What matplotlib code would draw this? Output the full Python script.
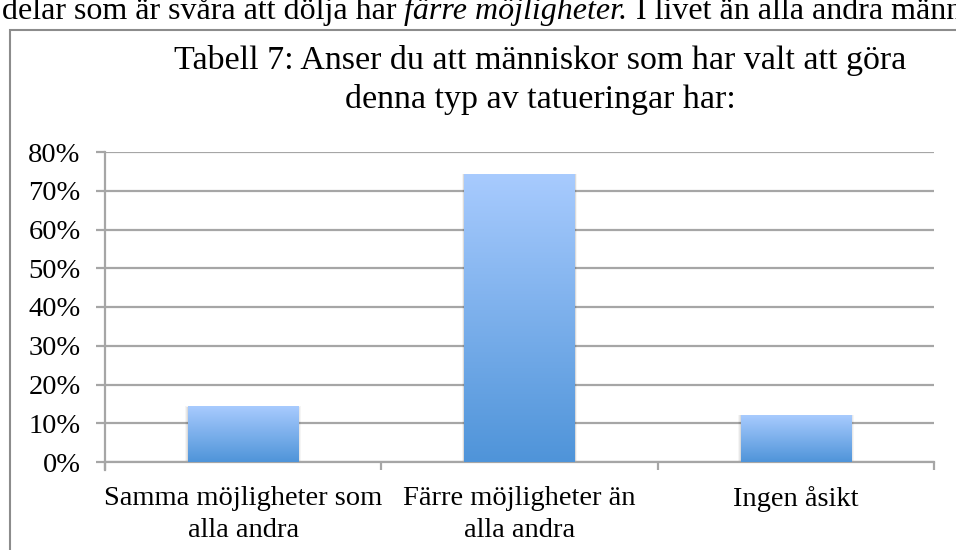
import numpy as np
import matplotlib
matplotlib.use("Agg")
import matplotlib.pyplot as plt
from matplotlib.patches import Rectangle
from matplotlib.colors import LinearSegmentedColormap

categories = ["Samma möjligheter som\nalla andra", "Färre möjligheter än\nalla andra", "Ingen åsikt"]
values = [14.2, 74.3, 12.1]
yticks = [0, 10, 20, 30, 40, 50, 60, 70, 80]
title = "Tabell 7: Anser du att människor som har valt att göra\ndenna typ av tatueringar har:"

plt.rcParams['font.family'] = ['Liberation Serif', 'DejaVu Serif']

fig = plt.figure(figsize=(9.56, 5.5), dpi=100)
W, H = 956, 550

# text from the surrounding document, cut at the top edge as in the page crop
base_y = 1 - 19 / H
r = fig.canvas.get_renderer()
t1 = fig.text(2 / W, base_y, "delar som är svåra att dölja har ", fontsize=23, va='baseline', ha='left')
bb = t1.get_window_extent(r)
t2 = fig.text(bb.x1 / W, base_y, "färre möjligheter.", fontsize=23, va='baseline', ha='left', style='italic')
bb2 = t2.get_window_extent(r)
fig.text(bb2.x1 / W, base_y, " I livet än alla andra männ", fontsize=23, va='baseline', ha='left')

# chart frame
fig.patches.append(Rectangle((10 / W, -0.1), 1.2, 1 - 30 / H + 0.1, transform=fig.transFigure,
                             fill=False, edgecolor='#8c8c8c', linewidth=1.5))

fig.text(540 / W, 1 - 80 / H, title, ha='center', va='center', fontsize=24.5, linespacing=1.32)

ax = fig.add_axes([105 / W, 1 - 462 / H, (934 - 105) / W, (462 - 152) / H])
ax.set_xlim(-0.5, 2.5)
ax.set_ylim(0, 80)

cmap = LinearSegmentedColormap.from_list('bar', ['#4f94d9', '#a8cbfe'])
grad = np.linspace(0, 1, 256).reshape(-1, 1)
bw = 0.40
for i, v in enumerate(values):
    # soft shadow
    for k, a in enumerate([0.06, 0.05, 0.04]):
        d = 0.003 * (k + 1)
        ax.add_patch(Rectangle((i - bw / 2 - d, -0.3), bw + 2 * d, v + 0.3 + d * 15, facecolor='#000000',
                               alpha=a, edgecolor='none', zorder=2.5))
    ax.imshow(grad, extent=(i - bw / 2, i + bw / 2, 0, v), origin='lower', cmap=cmap,
              aspect='auto', zorder=3)

ax.set_yticks(yticks)
ax.set_yticklabels([f"{t}%" for t in yticks], fontsize=20.5)
ax.yaxis.grid(True, color='#a6a6a6', linewidth=1.6)
ax.set_axisbelow(True)
ax.set_xticks([0, 1, 2])
ax.set_xticklabels(categories, fontsize=20.5, linespacing=1.4)
ax.set_xticks([-0.5, 0.5, 1.5, 2.5], minor=True)
ax.tick_params(axis='x', which='major', length=0, pad=17)
ax.tick_params(axis='x', which='minor', length=6, width=1.6, color='#a6a6a6')
ax.tick_params(axis='y', length=6.5, width=1.6, color='#a6a6a6', pad=11)
for s in ['top', 'right']:
    ax.spines[s].set_visible(False)
for s in ['left', 'bottom']:
    ax.spines[s].set_color('#a6a6a6')
    ax.spines[s].set_linewidth(1.6)
ax.spines['left'].set_bounds(-2.1, 80)
ax.spines['left'].set_zorder(1)

fig.savefig("out.png", dpi=100)
